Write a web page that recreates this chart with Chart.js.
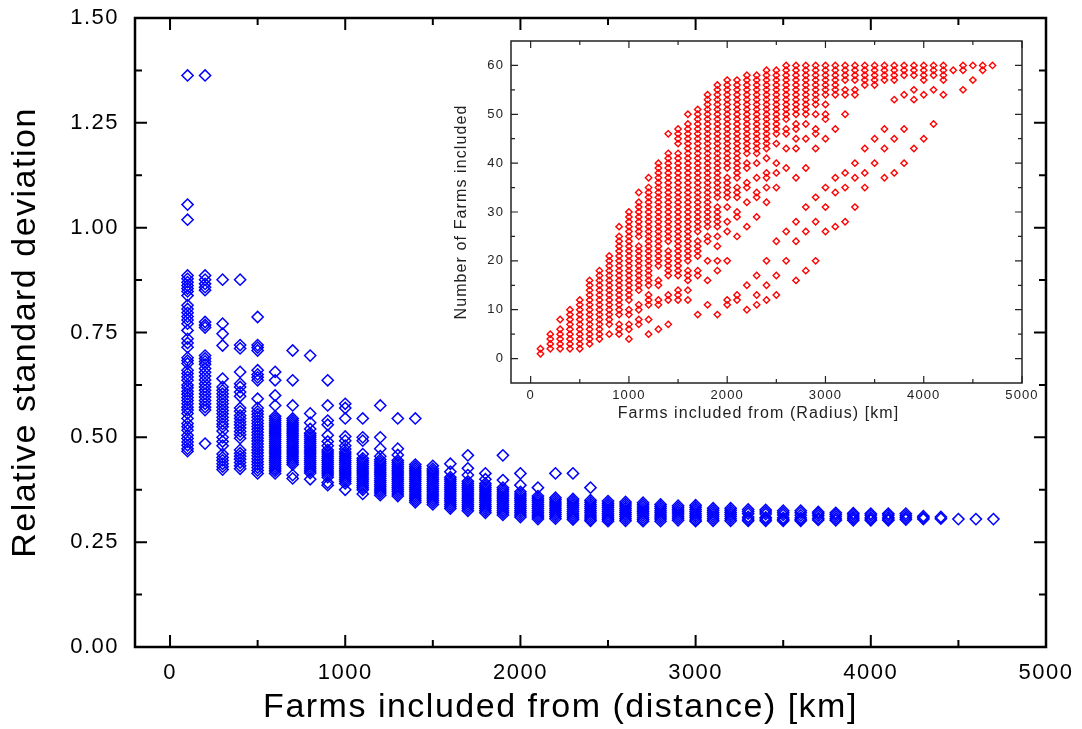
<!DOCTYPE html>
<html>
<head>
<meta charset="utf-8">
<script src="https://cdn.jsdelivr.net/npm/chart.js@4.4.1/dist/chart.umd.min.js"></script>
<style>
  body { margin: 0; background: #fff; }
  #wrap { position: relative; width: 1082px; height: 729px; }
  #main { position: absolute; left: 0; top: 0; }
  #inset { position: absolute; left: 440px; top: 31px; }
</style>
</head>
<body>
<div id="wrap">
  <canvas id="main" width="1082" height="729"></canvas>
  <canvas id="inset" width="620" height="394"></canvas>
</div>
<script>
// radius steps (km) shared by both plots
const radiusKm = [100, 200, 300, 400, 500, 600, 700, 800, 900, 1000,
  1100, 1200, 1300, 1400, 1500, 1600, 1700, 1800, 1900, 2000,
  2100, 2200, 2300, 2400, 2500, 2600, 2700, 2800, 2900, 3000,
  3100, 3200, 3300, 3400, 3500, 3600, 3700, 3800, 3900, 4000,
  4100, 4200, 4300, 4400, 4500, 4600, 4700];

// relative standard deviation, one list per radius step
const rsdByRadius = [
  [1.363, 1.055, 1.019, 0.886, 0.878, 0.870, 0.862, 0.855, 0.848, 0.838, 0.815, 0.806, 0.797, 0.788, 0.78, 0.771, 0.755, 0.735, 0.725, 0.715, 0.69, 0.683, 0.676, 0.66, 0.652, 0.644, 0.636, 0.625, 0.618, 0.61, 0.603, 0.595, 0.588, 0.58, 0.572, 0.565, 0.557, 0.545, 0.533, 0.525, 0.517, 0.505, 0.497, 0.489, 0.481, 0.473, 0.467],
  [1.363, 0.886, 0.876, 0.866, 0.858, 0.851, 0.775, 0.768, 0.762, 0.695, 0.688, 0.681, 0.674, 0.664, 0.655, 0.646, 0.637, 0.628, 0.62, 0.612, 0.604, 0.596, 0.588, 0.58, 0.572, 0.565, 0.485],
  [0.876, 0.771, 0.747, 0.719, 0.64, 0.62, 0.612, 0.604, 0.596, 0.588, 0.58, 0.572, 0.564, 0.556, 0.548, 0.54, 0.532, 0.525, 0.515, 0.5, 0.49, 0.48, 0.46, 0.452, 0.445, 0.437, 0.43, 0.423],
  [0.876, 0.72, 0.712, 0.656, 0.628, 0.62, 0.608, 0.598, 0.57, 0.562, 0.552, 0.545, 0.537, 0.53, 0.522, 0.514, 0.506, 0.498, 0.47, 0.462, 0.455, 0.448, 0.44, 0.432, 0.425],
  [0.787, 0.72, 0.714, 0.707, 0.66, 0.65, 0.643, 0.636, 0.592, 0.57, 0.562, 0.555, 0.548, 0.54, 0.533, 0.526, 0.519, 0.512, 0.505, 0.498, 0.491, 0.484, 0.477, 0.47, 0.463, 0.456, 0.449, 0.442, 0.435, 0.428, 0.421, 0.414],
  [0.656, 0.636, 0.6, 0.576, 0.55, 0.545, 0.54, 0.535, 0.53, 0.525, 0.52, 0.515, 0.51, 0.505, 0.5, 0.495, 0.49, 0.485, 0.48, 0.475, 0.47, 0.465, 0.46, 0.455, 0.45, 0.445, 0.44, 0.435, 0.43, 0.425, 0.42, 0.414],
  [0.707, 0.636, 0.576, 0.545, 0.54, 0.535, 0.53, 0.525, 0.52, 0.515, 0.51, 0.505, 0.5, 0.495, 0.49, 0.485, 0.48, 0.475, 0.47, 0.465, 0.46, 0.455, 0.45, 0.445, 0.44, 0.435, 0.41, 0.402],
  [0.695, 0.557, 0.535, 0.52, 0.51, 0.505, 0.5, 0.495, 0.49, 0.485, 0.48, 0.475, 0.47, 0.465, 0.46, 0.455, 0.45, 0.445, 0.44, 0.435, 0.43, 0.425, 0.42, 0.415, 0.4],
  [0.636, 0.576, 0.54, 0.53, 0.505, 0.49, 0.48, 0.47, 0.465, 0.46, 0.455, 0.45, 0.445, 0.44, 0.435, 0.43, 0.425, 0.42, 0.415, 0.41, 0.405, 0.392, 0.386],
  [0.58, 0.57, 0.545, 0.502, 0.492, 0.48, 0.472, 0.465, 0.46, 0.455, 0.45, 0.445, 0.44, 0.435, 0.43, 0.425, 0.42, 0.415, 0.41, 0.405, 0.4, 0.395, 0.39, 0.375],
  [0.545, 0.5, 0.492, 0.46, 0.45, 0.445, 0.44, 0.435, 0.43, 0.425, 0.42, 0.415, 0.41, 0.405, 0.4, 0.395, 0.39, 0.385, 0.38, 0.375, 0.365],
  [0.576, 0.5, 0.473, 0.455, 0.447, 0.442, 0.437, 0.432, 0.427, 0.422, 0.417, 0.412, 0.407, 0.402, 0.397, 0.392, 0.387, 0.382, 0.377, 0.372, 0.367, 0.362],
  [0.545, 0.473, 0.458, 0.445, 0.44, 0.435, 0.43, 0.425, 0.42, 0.415, 0.41, 0.405, 0.4, 0.395, 0.39, 0.385, 0.38, 0.375, 0.37, 0.365, 0.36],
  [0.545, 0.435, 0.43, 0.425, 0.42, 0.415, 0.41, 0.405, 0.4, 0.395, 0.39, 0.385, 0.38, 0.375, 0.37, 0.365, 0.36, 0.355, 0.35, 0.345],
  [0.432, 0.425, 0.42, 0.415, 0.41, 0.405, 0.4, 0.395, 0.39, 0.385, 0.38, 0.375, 0.37, 0.365, 0.36, 0.355, 0.35, 0.345, 0.34],
  [0.437, 0.418, 0.405, 0.4, 0.395, 0.39, 0.385, 0.38, 0.375, 0.37, 0.365, 0.36, 0.355, 0.35, 0.345, 0.34, 0.335, 0.33],
  [0.457, 0.426, 0.41, 0.395, 0.39, 0.385, 0.38, 0.375, 0.37, 0.365, 0.36, 0.355, 0.35, 0.345, 0.34, 0.335, 0.33, 0.325],
  [0.414, 0.4, 0.39, 0.385, 0.38, 0.375, 0.37, 0.365, 0.36, 0.355, 0.35, 0.345, 0.34, 0.335, 0.33, 0.325, 0.32],
  [0.457, 0.398, 0.38, 0.375, 0.37, 0.365, 0.36, 0.355, 0.35, 0.345, 0.34, 0.335, 0.33, 0.325, 0.32, 0.315],
  [0.414, 0.386, 0.37, 0.365, 0.36, 0.355, 0.35, 0.345, 0.34, 0.335, 0.33, 0.325, 0.32, 0.315, 0.31],
  [0.38, 0.36, 0.355, 0.35, 0.345, 0.34, 0.335, 0.33, 0.325, 0.32, 0.315, 0.31, 0.305],
  [0.414, 0.356, 0.351, 0.346, 0.341, 0.336, 0.331, 0.326, 0.321, 0.316, 0.311, 0.306],
  [0.414, 0.353, 0.348, 0.343, 0.338, 0.333, 0.328, 0.323, 0.318, 0.313, 0.308, 0.304],
  [0.38, 0.35, 0.345, 0.34, 0.335, 0.33, 0.325, 0.32, 0.315, 0.31, 0.305, 0.301],
  [0.348, 0.343, 0.338, 0.333, 0.328, 0.323, 0.318, 0.313, 0.308, 0.304, 0.3],
  [0.346, 0.341, 0.336, 0.331, 0.326, 0.321, 0.316, 0.311, 0.306, 0.301],
  [0.344, 0.339, 0.334, 0.329, 0.324, 0.319, 0.314, 0.309, 0.304, 0.3],
  [0.34, 0.335, 0.33, 0.325, 0.32, 0.315, 0.31, 0.305, 0.3],
  [0.337, 0.332, 0.327, 0.322, 0.317, 0.312, 0.307, 0.302],
  [0.338, 0.333, 0.328, 0.323, 0.318, 0.313, 0.308, 0.303, 0.3],
  [0.331, 0.326, 0.321, 0.316, 0.311, 0.306, 0.301],
  [0.331, 0.326, 0.321, 0.316, 0.311, 0.306, 0.301],
  [0.328, 0.323, 0.318, 0.31, 0.305, 0.301],
  [0.327, 0.322, 0.317, 0.309, 0.305, 0.301],
  [0.325, 0.32, 0.315, 0.308, 0.304, 0.301],
  [0.325, 0.32, 0.314, 0.308, 0.304, 0.301],
  [0.322, 0.318, 0.313, 0.307, 0.303],
  [0.32, 0.316, 0.311, 0.306, 0.302],
  [0.319, 0.315, 0.31, 0.306, 0.302],
  [0.318, 0.314, 0.309, 0.305, 0.302],
  [0.318, 0.314, 0.309, 0.305, 0.302],
  [0.318, 0.313, 0.308, 0.304],
  [0.312, 0.308, 0.305],
  [0.31, 0.306],
  [0.305],
  [0.305],
  [0.305]
];

// number of farms inside the radius, one list per radius step
const farmsByRadius = [
  [1, 2],
  [2, 3, 4, 5],
  [2, 3, 4, 5, 6, 8],
  [2, 3, 4, 5, 6, 7, 8, 9, 10],
  [2, 3, 4, 5, 6, 7, 8, 9, 10, 11, 12],
  [3, 4, 5, 6, 7, 8, 9, 10, 11, 12, 13, 14, 15, 16],
  [4, 5, 6, 7, 8, 9, 10, 11, 12, 13, 14, 15, 16, 17, 18],
  [5, 7, 8, 9, 10, 11, 12, 13, 14, 15, 16, 17, 18, 19, 20, 21],
  [5, 6, 7, 9, 10, 11, 12, 13, 14, 15, 16, 17, 18, 19, 20, 21, 22, 23, 24, 25, 27],
  [4, 6, 7, 9, 10, 12, 13, 14, 15, 16, 17, 18, 19, 20, 21, 22, 23, 24, 25, 26, 27, 28, 29, 30],
  [7, 8, 10, 11, 14, 15, 16, 17, 18, 19, 20, 21, 22, 23, 25, 26, 27, 28, 29, 30, 31, 32, 34],
  [5, 8, 11, 12, 13, 15, 16, 17, 18, 19, 20, 21, 22, 23, 24, 25, 26, 27, 28, 29, 30, 31, 32, 33, 34, 35, 37],
  [6, 11, 12, 15, 16, 19, 20, 21, 22, 23, 24, 25, 26, 27, 28, 29, 30, 31, 32, 33, 34, 35, 36, 37, 38, 39, 40],
  [7, 12, 13, 17, 18, 19, 20, 21, 22, 24, 25, 26, 27, 28, 29, 30, 31, 32, 33, 34, 35, 36, 37, 38, 39, 40, 41, 42, 46],
  [12, 13, 14, 17, 18, 19, 20, 21, 22, 23, 24, 25, 26, 27, 28, 29, 30, 31, 32, 33, 34, 35, 36, 37, 38, 39, 40, 41, 42, 44, 45, 46, 47],
  [12, 14, 16, 17, 18, 20, 21, 22, 23, 24, 25, 26, 27, 28, 29, 30, 31, 32, 33, 34, 35, 36, 37, 38, 39, 40, 41, 42, 43, 44, 45, 46, 47, 48, 50],
  [9, 17, 18, 21, 22, 23, 24, 26, 27, 28, 29, 30, 31, 32, 33, 34, 35, 36, 37, 38, 39, 40, 41, 42, 43, 44, 45, 46, 47, 48, 49, 50, 51],
  [11, 16, 20, 24, 25, 27, 28, 29, 30, 31, 32, 33, 34, 35, 36, 37, 38, 39, 40, 41, 42, 43, 44, 45, 46, 47, 48, 49, 50, 51, 52, 53, 54],
  [9, 18, 20, 23, 25, 27, 28, 29, 30, 31, 33, 34, 35, 36, 37, 38, 39, 40, 41, 42, 43, 44, 45, 46, 47, 48, 49, 50, 51, 52, 53, 54, 55, 56],
  [11, 12, 20, 26, 28, 31, 33, 34, 35, 36, 37, 39, 40, 41, 42, 43, 44, 45, 46, 47, 48, 49, 50, 51, 52, 53, 54, 55, 56, 57],
  [12, 13, 25, 29, 30, 33, 34, 35, 37, 38, 39, 40, 41, 42, 43, 44, 45, 46, 47, 48, 49, 50, 51, 52, 53, 54, 55, 56, 57],
  [10, 15, 27, 32, 35, 36, 39, 40, 42, 43, 44, 45, 46, 47, 48, 49, 50, 51, 52, 53, 54, 55, 56, 57, 58],
  [11, 13, 17, 29, 33, 34, 37, 40, 42, 43, 44, 45, 46, 47, 48, 49, 50, 51, 52, 53, 54, 55, 56, 57, 58],
  [12, 15, 20, 32, 35, 37, 38, 41, 43, 44, 45, 46, 47, 48, 49, 50, 51, 52, 53, 54, 55, 56, 57, 58, 59],
  [13, 17, 24, 35, 38, 40, 44, 46, 47, 48, 49, 50, 51, 52, 53, 54, 55, 56, 57, 58, 59],
  [20, 26, 39, 43, 46, 47, 49, 50, 51, 52, 53, 54, 55, 56, 57, 58, 59, 60],
  [16, 24, 28, 37, 43, 45, 47, 48, 50, 51, 52, 53, 54, 55, 56, 57, 58, 59, 60],
  [18, 26, 31, 39, 45, 48, 50, 51, 52, 53, 54, 55, 56, 57, 58, 59, 60],
  [20, 28, 33, 43, 46, 47, 50, 52, 53, 54, 55, 56, 57, 58, 59, 60],
  [26, 31, 35, 45, 49, 50, 52, 54, 55, 56, 57, 58, 59, 60],
  [27, 34, 37, 47, 54, 55, 56, 57, 58, 59, 60],
  [28, 35, 38, 50, 54, 55, 57, 58, 59, 60],
  [31, 37, 40, 54, 55, 57, 58, 59, 60],
  [35, 38, 43, 56, 57, 58, 59, 60],
  [40, 45, 56, 57, 58, 59, 60],
  [37, 43, 47, 57, 58, 59, 60],
  [38, 45, 53, 57, 58, 59, 60],
  [40, 47, 54, 58, 59, 60],
  [43, 53, 55, 58, 59, 60],
  [45, 54, 57, 58, 59, 60],
  [48, 55, 58, 59, 60],
  [54, 57, 58, 59, 60],
  [59],
  [55, 59, 60],
  [57, 60],
  [59, 60],
  [60]
];

// tick labels
const kmTicks = [0, 1000, 2000, 3000, 4000, 5000];
const rsdTicks = [0, 0.25, 0.5, 0.75, 1.0, 1.25, 1.5];
const farmTicks = [0, 10, 20, 30, 40, 50, 60];

const FONT = "'Liberation Sans', Arial, Helvetica, sans-serif";
Chart.defaults.font.family = FONT;
Chart.defaults.color = '#000';

const toPoints = lists => radiusKm.flatMap((r, i) => lists[i].map(v => ({ x: r, y: v })));
const halfSteps = ticks => ticks.slice(1).map((t, i) => (t + ticks[i]) / 2);

// closed frame with inward tick marks on all four sides, plus the x title
const boxTicks = {
  id: 'boxTicks',
  beforeDraw(chart, args, o) {
    chart.ctx.letterSpacing = o.spacing + 'px';
  },
  afterDatasetsDraw(chart, args, o) {
    const { ctx, chartArea: a, scales: { x, y } } = chart;
    ctx.save();
    ctx.strokeStyle = o.color;
    ctx.lineWidth = o.tickWidth;
    ctx.beginPath();
    const xMarks = (vals, len) => vals.forEach(v => {
      const px = x.getPixelForValue(v);
      ctx.moveTo(px, a.bottom); ctx.lineTo(px, a.bottom - len);
      ctx.moveTo(px, a.top); ctx.lineTo(px, a.top + len);
    });
    const yMarks = (vals, len) => vals.forEach(v => {
      const py = y.getPixelForValue(v);
      ctx.moveTo(a.left, py); ctx.lineTo(a.left + len, py);
      ctx.moveTo(a.right, py); ctx.lineTo(a.right - len, py);
    });
    xMarks(o.xTicks, o.major);
    xMarks(halfSteps(o.xTicks), o.minor);
    yMarks(o.yTicks, o.major);
    yMarks(halfSteps(o.yTicks), o.minor);
    ctx.stroke();
    ctx.lineWidth = o.frameWidth;
    ctx.strokeRect(a.left, a.top, a.right - a.left, a.bottom - a.top);

    const t = o.xTitle;
    ctx.fillStyle = o.color;
    ctx.font = t.size + 'px ' + FONT;
    ctx.textAlign = 'center';
    ctx.textBaseline = 'alphabetic';
    ctx.fillText(t.text, (a.left + a.right) / 2 + t.shift, a.bottom + t.drop);
    ctx.restore();
  }
};

const fixedTicks = list => scale => { scale.ticks = list.map(v => ({ value: v })); };
const fitTo = (prop, size) => scale => {
  scale[prop] = size;
  scale.paddingTop = scale.paddingBottom = scale.paddingLeft = scale.paddingRight = 0;
};

// main plot: spread of the estimate against distance
new Chart(document.getElementById('main'), {
  type: 'scatter',
  data: {
    datasets: [{
      data: toPoints(rsdByRadius),
      pointStyle: 'rectRot',
      pointRadius: 5.6,
      borderWidth: 1.5,
      borderColor: '#0000ff',
      backgroundColor: 'rgba(0,0,0,0)'
    }]
  },
  options: {
    responsive: false,
    animation: false,
    events: [],
    layout: { padding: { top: 18, right: 36, left: 0, bottom: 0 }, autoPadding: false },
    plugins: {
      legend: { display: false },
      tooltip: { enabled: false },
      boxTicks: {
        xTicks: kmTicks, yTicks: rsdTicks, major: 12, minor: 7, tickWidth: 2, frameWidth: 2.5, color: '#000', spacing: 1.5,
        xTitle: { text: 'Farms included from (distance) [km]', size: 34, shift: -30, drop: 70 }
      }
    },
    scales: {
      x: {
        type: 'linear',
        min: -200,
        max: 5000,
        afterBuildTicks: fixedTicks(kmTicks),
        afterFit: fitTo('height', 82),
        grid: { display: false, drawTicks: false },
        border: { display: false },
        ticks: { padding: 13, maxRotation: 0, autoSkip: false, font: { size: 22 }, callback: v => String(v) }
      },
      y: {
        min: 0,
        max: 1.5,
        afterBuildTicks: fixedTicks(rsdTicks),
        afterFit: fitTo('width', 135),
        grid: { display: false, drawTicks: false },
        border: { display: false },
        ticks: { padding: 16, font: { size: 22 }, callback: v => v.toFixed(2) },
        title: { display: true, text: 'Relative standard deviation', font: { size: 34 }, padding: { top: 5, bottom: 0 } }
      }
    }
  },
  plugins: [boxTicks]
});

// inset: how many farms each radius takes in
new Chart(document.getElementById('inset'), {
  type: 'scatter',
  data: {
    datasets: [{
      data: toPoints(farmsByRadius),
      pointStyle: 'rectRot',
      pointRadius: 3.2,
      borderWidth: 1.4,
      borderColor: '#ff0000',
      backgroundColor: 'rgba(0,0,0,0)'
    }]
  },
  options: {
    responsive: false,
    animation: false,
    events: [],
    layout: { padding: { top: 10, right: 38, left: 0, bottom: 0 }, autoPadding: false },
    plugins: {
      legend: { display: false },
      tooltip: { enabled: false },
      boxTicks: {
        xTicks: kmTicks, yTicks: farmTicks, major: 7, minor: 4, tickWidth: 1.2, frameWidth: 1.5, color: '#222', spacing: 1.1,
        xTitle: { text: 'Farms included from (Radius) [km]', size: 16, shift: -8, drop: 35 }
      }
    },
    scales: {
      x: {
        type: 'linear',
        min: -200,
        max: 5000,
        afterBuildTicks: fixedTicks(kmTicks),
        afterFit: fitTo('height', 42),
        grid: { display: false, drawTicks: false },
        border: { display: false },
        ticks: { padding: 5, maxRotation: 0, autoSkip: false, font: { size: 13 }, color: '#222', callback: v => String(v) }
      },
      y: {
        min: -5,
        max: 65,
        afterBuildTicks: fixedTicks(farmTicks),
        afterFit: fitTo('width', 71),
        grid: { display: false, drawTicks: false },
        border: { display: false },
        ticks: { padding: 7, font: { size: 13 }, color: '#222', callback: v => String(v) },
        title: { display: true, text: 'Number of Farms included', font: { size: 16 }, color: '#222', padding: { top: 12, bottom: 0 } }
      }
    }
  },
  plugins: [boxTicks]
});
</script>
</body>
</html>
